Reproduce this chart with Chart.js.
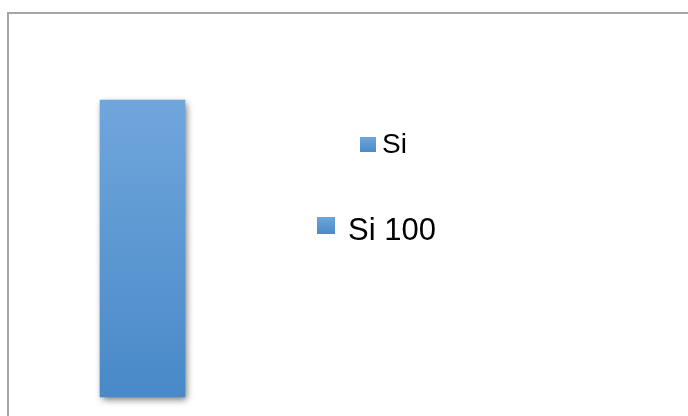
<!DOCTYPE html>
<html>
<head>
<meta charset="utf-8">
<script src="https://cdn.jsdelivr.net/npm/chart.js@4"></script>
<style>
  html, body { margin: 0; padding: 0; background: #fff; }
  #wrap { position: relative; width: 688px; height: 416px; overflow: hidden; }
  #frame { position: absolute; left: 7px; top: 12px; width: 700px; height: 420px;
    border-left: 2px solid #a6a6a6; border-top: 2px solid #a6a6a6; box-sizing: border-box; }
  canvas { position: absolute; left: 0; top: 0; }
  .leg { position: absolute; font-family: Arial, "Liberation Sans", sans-serif; color: #000;
    white-space: nowrap; line-height: 1; }
  .box { position: absolute; background: linear-gradient(#6fa5dc, #4a8ac8); }
</style>
</head>
<body>
<div id="wrap">
  <div id="frame"></div>
  <canvas id="chart" width="688" height="416"></canvas>
  <div class="box" style="left:360px;top:137px;width:16px;height:15px"></div>
  <div class="leg" id="leg1" style="left:382px;top:130px;font-size:28px"></div>
  <div class="box" style="left:317px;top:217px;width:18px;height:17px"></div>
  <div class="leg" id="leg2" style="left:348px;top:214px;font-size:31px"></div>
</div>
<script>
'use strict';

var categories = ['Si'];
var seriesName = 'Si';
var seriesValues = [100];

document.getElementById('leg1').textContent = seriesName;
document.getElementById('leg2').textContent = categories[0] + ' ' + seriesValues[0];

// soft shadow behind the bar
var shadowPlugin = {
  id: 'barShadow',
  beforeDatasetsDraw: function(chart) {
    var ctx = chart.ctx;
    ctx.save();
    ctx.shadowColor = 'rgba(0,0,0,0.55)';
    ctx.shadowBlur = 7;
    ctx.shadowOffsetX = 2;
    ctx.shadowOffsetY = 3;
  },
  afterDatasetsDraw: function(chart) {
    chart.ctx.restore();
  }
};

function barGradient(context) {
  var area = context.chart.chartArea;
  if (!area) return '#5b97d2';
  var g = context.chart.ctx.createLinearGradient(0, area.top, 0, area.bottom);
  g.addColorStop(0, '#70a6dc');
  g.addColorStop(1, '#4989c8');
  return g;
}

new Chart(document.getElementById('chart'), {
  type: 'bar',
  data: {
    labels: categories,
    datasets: [{
      label: seriesName,
      data: seriesValues,
      backgroundColor: barGradient,
      borderWidth: 0,
      barPercentage: 1,
      categoryPercentage: 1,
      clip: false
    }]
  },
  options: {
    responsive: false,
    animation: false,
    layout: { padding: { left: 100, right: 503, top: 100, bottom: 19 } },
    scales: {
      x: { display: false },
      y: { display: false, min: 0, max: 100 }
    },
    plugins: { legend: { display: false }, tooltip: { enabled: false } }
  },
  plugins: [shadowPlugin]
});
</script>
</body>
</html>
